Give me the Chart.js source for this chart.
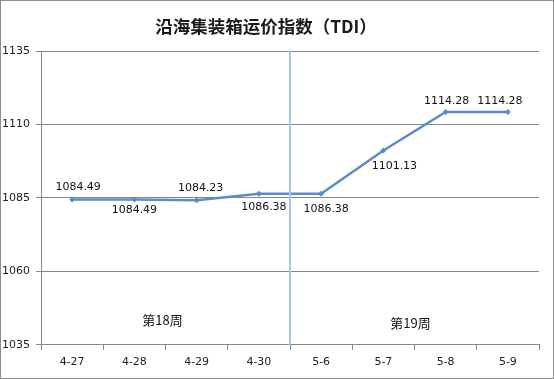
<!DOCTYPE html>
<html>
<head>
<meta charset="utf-8">
<script src="https://cdn.jsdelivr.net/npm/chart.js@4/dist/chart.umd.min.js"></script>
<style>
  html, body { margin: 0; padding: 0; background: #fff; }
  #wrap { width: 554px; height: 379px; position: relative; }
</style>
</head>
<body>
<div id="wrap"><canvas id="myChart" width="554" height="379"></canvas></div>
<script>
// x-axis labels (dates)
var dates = ["4-27", "4-28", "4-29", "4-30", "5-6", "5-7", "5-8", "5-9"];
// TDI values
var tdi = [1084.49, 1084.49, 1084.23, 1086.38, 1086.38, 1101.13, 1114.28, 1114.28];
// week names
var weeks = ["第18周", "第19周"];
var title = "沿海集装箱运价指数（TDI）";

var lineColor = "#5a8cc8";
var gridColor = "#868686";

// where each value label sits relative to its point [dx, dy]
var labelOffsets = [[6, -12], [0, 11], [4, -12], [5, 13], [5, 15], [11, 16], [1, -11], [-8, -11]];

var extras = {
  id: "extras",
  afterDatasetsDraw: function (chart) {
    var c = chart.ctx;
    var x = chart.scales.x, y = chart.scales.y;
    var area = chart.chartArea;
    var meta = chart.getDatasetMeta(0);
    c.save();

    // week divider between 4-30 and 5-6
    var xd = (x.getPixelForValue(3) + x.getPixelForValue(4)) / 2;
    c.strokeStyle = "#a9c7e6";
    c.lineWidth = 2;
    c.beginPath();
    c.moveTo(xd, area.top);
    c.lineTo(xd, area.bottom);
    c.stroke();

    // value labels
    c.fillStyle = "#111";
    c.font = "11px 'DejaVu Sans'";
    c.textAlign = "center";
    c.textBaseline = "middle";
    meta.data.forEach(function (pt, i) {
      c.fillText(tdi[i].toFixed(2), pt.x + labelOffsets[i][0], pt.y + labelOffsets[i][1]);
    });

    // week labels
    c.font = "13px 'Noto Sans CJK SC'";
    c.fillText(weeks[0], (x.getPixelForValue(1) + x.getPixelForValue(2)) / 2 - 3, 320);
    c.fillText(weeks[1], (x.getPixelForValue(5) + x.getPixelForValue(6)) / 2 - 4, 323);

    // title
    c.font = "bold 17.5px 'Noto Sans CJK SC'";
    c.fillStyle = "#1a1a1a";
    c.fillText(title, 266, 26);

    // outer border
    c.strokeStyle = "#8c8c8c";
    c.lineWidth = 1;
    c.strokeRect(0.5, 0.5, chart.width - 1, chart.height - 1);
    c.restore();
  }
};

var ctx = document.getElementById("myChart");
var myChart = new Chart(ctx, {
  type: "line",
  data: {
    labels: dates,
    datasets: [
      {
        data: tdi,
        borderColor: lineColor,
        backgroundColor: lineColor,
        borderWidth: 2.5,
        pointStyle: "rectRot",
        pointRadius: 3,
        pointBorderWidth: 0,
        tension: 0,
        fill: false
      }
    ]
  },
  options: {
    responsive: false,
    animation: false,
    layout: { padding: { top: 51, right: 15, bottom: 4, left: 2 } },
    plugins: {
      legend: { display: false },
      tooltip: { enabled: false }
    },
    scales: {
      x: {
        offset: true,
        grid: {
          offset: true,
          drawOnChartArea: false,
          color: gridColor,
          tickLength: 5
        },
        border: { color: gridColor },
        ticks: {
          color: "#222",
          font: { family: "DejaVu Sans", size: 11 },
          padding: 6,
          maxRotation: 0
        }
      },
      y: {
        min: 1035,
        max: 1135,
        ticks: {
          stepSize: 25,
          color: "#222",
          font: { family: "DejaVu Sans", size: 11 },
          crossAlign: "far",
          padding: 4,
          callback: function (v) { return String(v); }
        },
        grid: { color: gridColor, tickLength: 5 },
        border: { color: gridColor },
        afterFit: function (scale) { scale.width = 39; }
      }
    }
  },
  plugins: [extras]
});
</script>
</body>
</html>
